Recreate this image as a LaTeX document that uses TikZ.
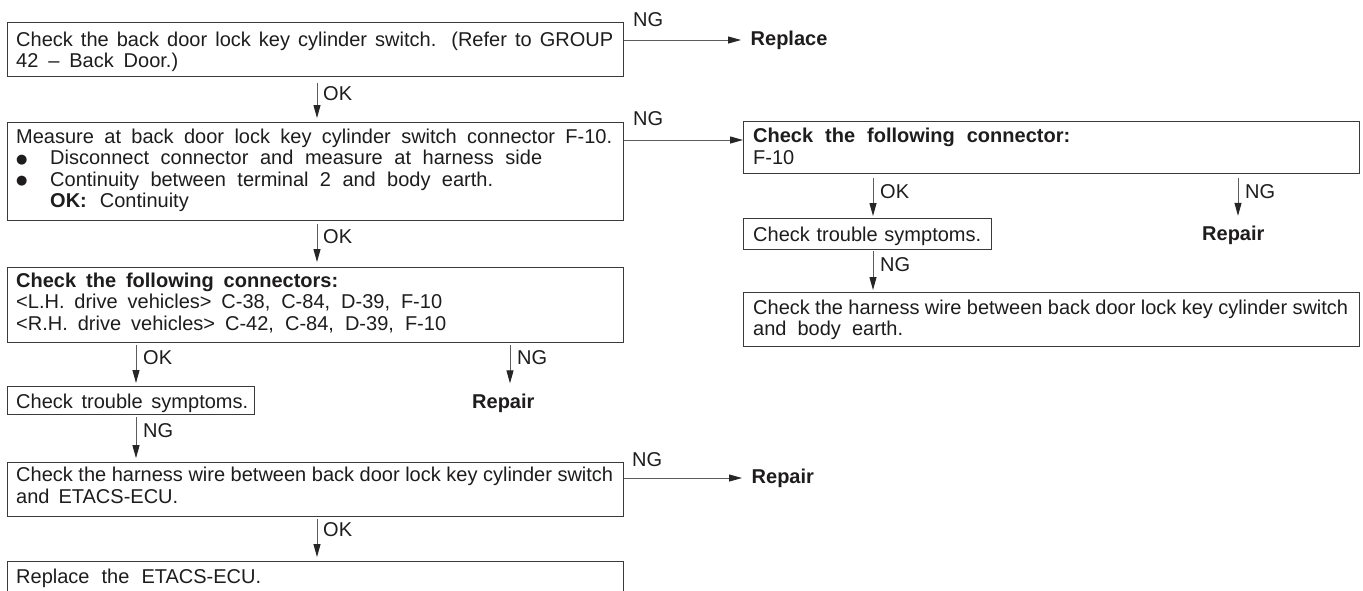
\documentclass[tikz,border=0pt]{standalone}
\usepackage{fontspec}
\setmainfont{Liberation Sans}
\newfontfamily\dejavu{DejaVu Sans}
\usetikzlibrary{arrows.meta,calc}
\definecolor{ink}{HTML}{1E1C1D}
\definecolor{frame}{HTML}{3A3A3A}
\definecolor{wire}{HTML}{5C5C5C}
\newcommand{\J}[2]{\makebox[#1pt][s]{#2}}
\newcommand{\bul}{\makebox[34pt][l]{\raisebox{1.5pt}{\dejavu\fontsize{13}{13}\selectfont ●}}}
\begin{document}
\begin{tikzpicture}[x=1pt,y=-1pt,
  font=\fontsize{20}{21.5}\selectfont, text=ink,
  box/.style={draw=frame, line width=1.3pt, inner sep=0pt, anchor=north west},
  txt/.style={inner sep=0pt, anchor=north west, align=left},
  lbl/.style={inner sep=0pt, anchor=base west},
  act/.style={inner sep=0pt, anchor=base west, font=\fontsize{20}{21.5}\selectfont\bfseries},
  actw/.style={inner xsep=9.5pt, inner ysep=0pt, anchor=west, font=\fontsize{20}{21.5}\selectfont\bfseries},
  arr/.style={draw=wire, line width=1pt, -{Triangle[length=13pt,width=7pt,color=black!85,fill=black!85]}}
]
\fill[white] (0,0) rectangle (1363,590);
\clip (0,0) rectangle (1363,590);

% ---------- left column boxes ----------
\node[box, minimum width=616pt, minimum height=54pt] (b1) at (7,22) {};
\node[txt] (t1) at (16,30.95) {\strut\J{597}{Check the back door lock key cylinder switch. (Refer to GROUP}\\
  \strut\J{162}{42 – Back Door.)}};

\node[box, minimum width=616pt, minimum height=98.5pt] (b2) at (7,121.5) {};
\node[txt] (t2) at (16,127.95) {\strut\J{596}{Measure at back door lock key cylinder switch connector F-10.}\\
  \strut\bul\J{492}{Disconnect connector and measure at harness side}\\
  \strut\bul\J{443}{Continuity between terminal 2 and body earth.}\\
  \strut\hspace*{34pt}\textbf{OK:}\hspace{13pt}Continuity};

\node[box, minimum width=616pt, minimum height=75pt] (b4) at (7,267) {};
\node[txt] (t4) at (16,271.95) {\strut\J{322}{\textbf{Check the following connectors:}}\\
  \strut\J{426}{<L.H. drive vehicles> C-38, C-84, D-39, F-10}\\
  \strut\J{430}{<R.H. drive vehicles> C-42, C-84, D-39, F-10}};

\node[box, minimum width=247pt, minimum height=28pt] (lc) at (7,386) {};
\node[txt] (tlc) at (16,392.95) {\strut\J{232}{Check trouble symptoms.}};

\node[box, minimum width=616pt, minimum height=53.8pt] (lh) at (7,461.7) {};
\node[txt] (tlh) at (16,466.65) {\strut\J{597}{Check the harness wire between back door lock key cylinder switch}\\
  \strut\J{162}{and ETACS-ECU.}};

\node[box, minimum width=616pt, minimum height=60pt] (le) at (7,561) {};
\node[txt] (tle) at (16,567.95) {\strut\J{245}{Replace the ETACS-ECU.}};

% ---------- right column boxes ----------
\node[box, minimum width=616pt, minimum height=52pt] (b3) at (743,121) {};
\node[txt] (t3) at (753,127.25) {\strut\J{317}{\textbf{Check the following connector:}}\\
  \strut F-10};

\node[box, minimum width=248pt, minimum height=31pt] (rc) at (743,218) {};
\node[txt] (trc) at (753,225.95) {\strut\J{228}{Check trouble symptoms.}};

\node[box, minimum width=616pt, minimum height=54.3pt] (rh) at (743,291.7) {};
\node[txt] (trh) at (753,298.95) {\strut\J{595}{Check the harness wire between back door lock key cylinder switch}\\
  \strut\J{150}{and body earth.}};

% ---------- results ----------
\node[actw] (rep1) at (741,40) {Replace};
\node[act] (rep2) at (472,408) {Repair};
\node[act] (rep3) at (1202,240) {Repair};
\node[actw] (rep4) at (742,478) {Repair};

% ---------- labels ----------
\node[lbl] (ng1) at (633,26.7) {NG};
\node[lbl] (ok1) at (323,100) {OK};
\node[lbl] (ng2) at (633,125) {NG};
\node[lbl] (ok2) at (323,243) {OK};
\node[lbl] (ok3) at (880,198) {OK};
\node[lbl] (ng3) at (1245,198) {NG};
\node[lbl] (ng4) at (880,271.7) {NG};
\node[lbl] (ok4) at (143,364) {OK};
\node[lbl] (ng5) at (517,364) {NG};
\node[lbl] (ng6) at (143,437) {NG};
\node[lbl] (ng7) at (632,466.7) {NG};
\node[lbl] (ok5) at (323,536.7) {OK};

% ---------- connectors ----------
\draw[arr] (b1.east |- rep1.west) -- (rep1.west);
\coordinate (h2) at ($(b3.north west)+(0,19)$);
\draw[arr] (b2.east |- h2) -- (h2);
\draw[arr] (lh.east |- rep4.west) -- (rep4.west);

\draw[arr, shorten <=5.5pt, shorten >=3.5pt] ([xshift=310pt]b1.south west) -- ([xshift=310pt]b2.north west);
\draw[arr, shorten <=3pt, shorten >=5pt] ([xshift=310pt]b2.south west) -- ([xshift=310pt]b4.north west);
\draw[arr, shorten <=2pt, shorten >=3pt] ([xshift=129pt]b4.south west) -- ([xshift=129pt]lc.north west);
\coordinate (s5) at ([xshift=503pt]b4.south west);
\draw[arr, shorten <=2pt, shorten >=10pt] (s5) -- (s5 |- rep2.north);
\draw[arr, shorten <=2pt, shorten >=3.5pt] ([xshift=129pt]lc.south west) -- ([xshift=129pt]lh.north west);
\draw[arr, shorten <=2.5pt, shorten >=4pt] ([xshift=310pt]lh.south west) -- ([xshift=310pt]le.north west);

\draw[arr, shorten <=4pt, shorten >=2pt] ([xshift=130pt]b3.south west) -- ([xshift=130pt]rc.north west);
\coordinate (s6) at ([xshift=495pt]b3.south west);
\draw[arr, shorten <=4pt, shorten >=9.5pt] (s6) -- (s6 |- rep3.north);
\draw[arr, shorten <=1pt, shorten >=1.7pt] ([xshift=130pt]rc.south west) -- ([xshift=130pt]rh.north west);
\end{tikzpicture}
\end{document}
